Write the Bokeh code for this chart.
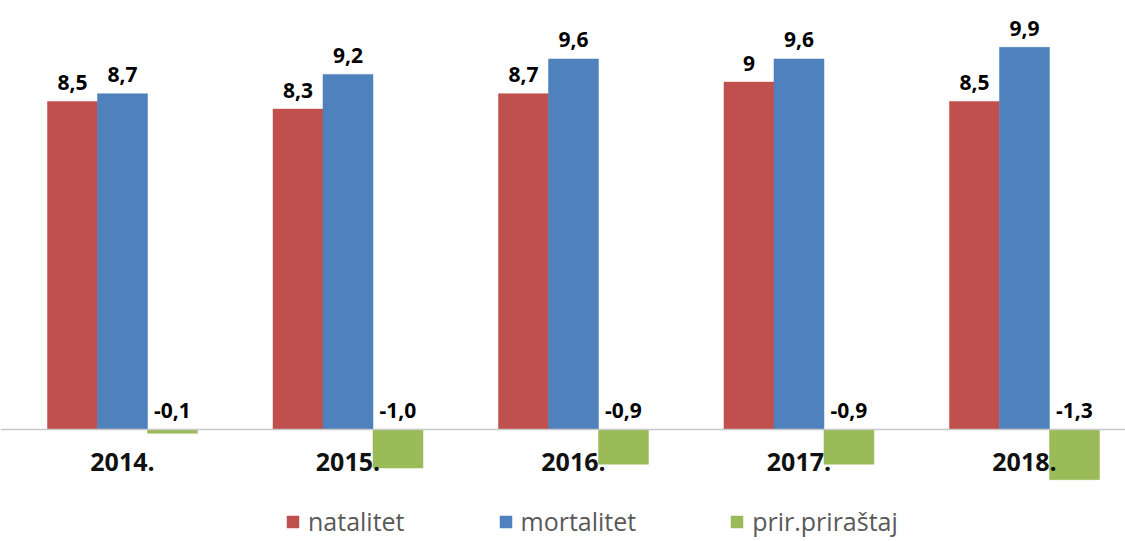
from bokeh.plotting import figure
from bokeh.models import ColumnDataSource, Legend, LegendItem, FixedTicker, Range1d
from bokeh.transform import dodge
from bokeh.core.properties import value
from bokeh.embed import file_html
from bokeh.resources import INLINE

years = ["2014.", "2015.", "2016.", "2017.", "2018."]
natalitet = [8.5, 8.3, 8.7, 9.0, 8.5]
mortalitet = [8.7, 9.2, 9.6, 9.6, 9.9]
prirastaj = [-0.1, -1.0, -0.9, -0.9, -1.3]
series_names = ["natalitet", "mortalitet", "prir.priraštaj"]
colors = ["#C0504D", "#4F81BD", "#9BBB59"]

xs = list(range(len(years)))

def fmt_g(v):
    return f"{v:g}".replace(".", ",")

def fmt_1(v):
    return f"{v:.1f}".replace(".", ",")

src = ColumnDataSource(dict(
    x=xs,
    nat=natalitet,
    mort=mortalitet,
    prir=prirastaj,
    nat_lbl=[fmt_g(v) for v in natalitet],
    mort_lbl=[fmt_g(v) for v in mortalitet],
    prir_lbl=[fmt_1(v) for v in prirastaj],
    nat_pos=[max(v, 0) for v in natalitet],
    mort_pos=[max(v, 0) for v in mortalitet],
    prir_pos=[max(v, 0) for v in prirastaj],
))

W, H = 1125, 541
p = figure(width=W, height=H, output_backend="svg", toolbar_location=None,
           x_range=Range1d(-0.541, 4.448), y_range=Range1d(-2.902, 11.114),
           min_border=0, min_border_left=0, min_border_right=0,
           min_border_top=0, min_border_bottom=0)
p.outline_line_color = None
p.xgrid.visible = False
p.ygrid.visible = False
p.yaxis.visible = False
p.background_fill_color = "white"
p.border_fill_color = "white"

bw = 0.2217
offs = [-bw, 0.0, bw]
cols = ["nat", "mort", "prir"]
renderers = []
for c, o, col in zip(cols, offs, colors):
    r = p.vbar(x=dodge("x", o), top=c, bottom=0, width=bw, source=src,
               fill_color=col, line_color=col, line_width=0.5)
    renderers.append(r)
    p.text(x=dodge("x", o), y=c + "_pos", text=c + "_lbl", source=src,
           text_align="center", text_baseline="alphabetic", y_offset=-19,
           text_font=value("Open Sans"), text_font_style="bold",
           text_font_size="21px", text_color="#000000")

ax = p.xaxis[0]
ax.fixed_location = 0
ax.ticker = FixedTicker(ticks=xs)
ax.major_label_overrides = {i: y for i, y in zip(xs, years)}
ax.axis_line_color = "#C8C8C8"
ax.axis_line_width = 1.5
ax.major_tick_line_color = None
ax.minor_tick_line_color = None
ax.major_label_standoff = 18
ax.major_label_text_font = "Open Sans"
ax.major_label_text_font_style = "bold"
ax.major_label_text_font_size = "25px"
ax.major_label_text_color = "#111111"

legend = Legend(items=[LegendItem(label=n, renderers=[r]) for n, r in zip(series_names, renderers)],
                orientation="horizontal", location=(285, 3),
                glyph_width=15, glyph_height=15, label_standoff=8, spacing=93,
                padding=0, margin=0, border_line_color=None,
                background_fill_alpha=0,
                label_text_font="Open Sans", label_text_font_size="25px",
                label_text_color="#595959", label_height=20)
p.add_layout(legend, "center")

open("out.html", "w").write(file_html(p, INLINE))
